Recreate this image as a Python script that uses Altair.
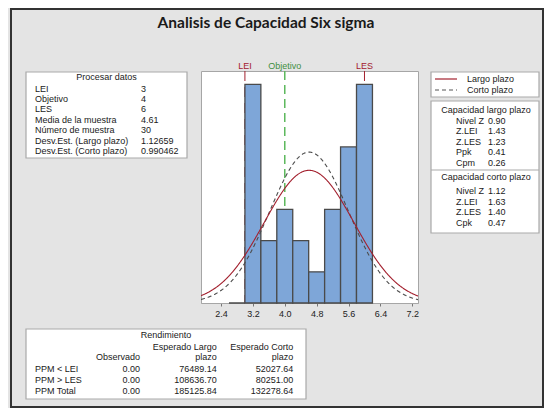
import altair as alt
import pandas as pd

# ---------------- data ----------------
bin_start = [2.6, 3.0, 3.4, 3.8, 4.2, 4.6, 5.0, 5.4, 5.8]
bin_end = [3.0, 3.4, 3.8, 4.2, 4.6, 5.0, 5.4, 5.8, 6.2]
counts = [0, 7, 2, 3, 2, 1, 3, 5, 7]

LEI = 3.0
OBJETIVO = 4.0
LES = 6.0
MEDIA = 4.61
N_MUESTRA = 30
DESV_LARGO = 1.12659
DESV_CORTO = 0.990462
ANCHO_CLASE = 0.4

tick_values = [2.4, 3.2, 4.0, 4.8, 5.6, 6.4, 7.2]
x_domain = [1.898, 7.343]
y_domain = [0, 7.43]

ref_names = ["LEI", "Objetivo", "LES"]
ref_values = [LEI, OBJETIVO, LES]

proc_title = "Procesar datos"
proc_labels = ["LEI", "Objetivo", "LES", "Media de la muestra", "Número de muestra",
               "Desv.Est. (Largo plazo)", "Desv.Est. (Corto plazo)"]
proc_values = ["3", "4", "6", "4.61", "30", "1.12659", "0.990462"]

legend_labels = ["Largo plazo", "Corto plazo"]

cap_largo_title = "Capacidad largo plazo"
cap_largo_labels = ["Nivel Z", "Z.LEI", "Z.LES", "Ppk", "Cpm"]
cap_largo_values = ["0.90", "1.43", "1.23", "0.41", "0.26"]
cap_corto_title = "Capacidad corto plazo"
cap_corto_labels = ["Nivel Z", "Z.LEI", "Z.LES", "Cpk"]
cap_corto_values = ["1.12", "1.63", "1.40", "0.47"]

rend_title = "Rendimiento"
rend_headers_largo = ["Esperado Largo", "plazo"]
rend_headers_corto = ["Esperado Corto", "plazo"]
rend_header_obs = "Observado"
rend_rows = ["PPM < LEI", "PPM > LES", "PPM Total"]
rend_obs = ["0.00", "0.00", "0.00"]
rend_largo = ["76489.14", "108636.70", "185125.84"]
rend_corto = ["52027.64", "80251.00", "132278.64"]

titulo = "Analisis de Capacidad Six sigma"

# ---------------- style ----------------
FONT = "Liberation Sans"
TITLE_FONT = "Lato"
TXT = "#1a1a1a"
BG = "#e4e4e4"
BOX_STROKE = "#a9a9a9"
RED = "#a3202e"
GREEN = "#5cb85c"
BAR = "#7ea6d8"
FS = 9

one = pd.DataFrame({"k": [0]})
xs = alt.Scale(domain=x_domain, nice=False, zero=False)
ys = alt.Scale(domain=y_domain, nice=False)
x_axis = alt.Axis(values=tick_values, format=".1f", title=None, grid=False,
                  labelFontSize=9, labelFont=FONT, labelColor="#222222",
                  tickSize=3, tickColor="#777777", domainColor="#a6a6a6",
                  labelPadding=3)


def txt(lines, x, y, align="left", size=FS, weight="normal", color=TXT, lh=10.4):
    return alt.Chart(one).mark_text(
        align=align, baseline="top", fontSize=size, fontWeight=weight,
        color=color, font=FONT, lineHeight=lh
    ).encode(x=alt.value(x), y=alt.value(y), text=alt.value(lines))


def box(x1, y1, x2, y2, fill="white", stroke=BOX_STROKE, sw=1.2, fo=1):
    return alt.Chart(one).mark_rect(fill=fill, stroke=stroke, strokeWidth=sw, fillOpacity=fo).encode(
        x=alt.value(x1), x2=alt.value(x2), y=alt.value(y1), y2=alt.value(y2))


def seg(x1, y1, x2, y2, color, sw=1.0, dash=None):
    kw = dict(color=color, strokeWidth=sw)
    if dash:
        kw["strokeDash"] = dash
    return alt.Chart(one).mark_rule(**kw).encode(
        x=alt.value(x1), x2=alt.value(x2), y=alt.value(y1), y2=alt.value(y2))


layers = []

# outer frame
layers.append(box(-190, -62, 342, 336, fill=BG, stroke="#333333", sw=2, fo=0))

# title
layers.append(alt.Chart(one).mark_text(align="center", baseline="middle", fontSize=15.5,
                                       fontWeight="bold", color=TXT, font=TITLE_FONT)
              .encode(x=alt.value(65), y=alt.value(-48), text=alt.value(titulo)))

# Procesar datos box
layers.append(box(-175, 1, -14, 87))
layers.append(txt(proc_title, -94.5, 1.7, align="center"))
layers.append(txt(proc_labels, -166, 13.7))
layers.append(txt(proc_values, -60, 13.7))

# legend box
layers.append(box(230, 1, 338, 26))
layers.append(seg(234, 8, 256, 8, RED, 1.2))
layers.append(seg(234, 19, 256, 19, "#555555", 1.2, [4, 3]))
layers.append(txt(legend_labels, 266, 3.7, lh=11))

# capability box
layers.append(box(230, 30, 338, 162))
layers.append(seg(230, 99, 338, 99, BOX_STROKE, 1.2))
layers.append(txt(cap_largo_title, 285, 35.4, align="center"))
layers.append(txt(cap_largo_labels, 255, 45.7, lh=10.5))
layers.append(txt(cap_largo_values, 287, 45.7, lh=10.5))
layers.append(txt(cap_corto_title, 285, 102.0, align="center"))
layers.append(txt(cap_corto_labels, 255, 116.4, lh=10.5))
layers.append(txt(cap_corto_values, 287, 116.4, lh=10.5))

# Rendimiento box
layers.append(box(-175, 258, 105, 328))
layers.append(txt(rend_title, -35, 259.7, align="center"))
layers.append(txt(rend_headers_largo, 15.7, 271.5, align="right", lh=10.5))
layers.append(txt(rend_headers_corto, 92.3, 271.5, align="right", lh=10.5))
layers.append(txt(rend_header_obs, -61, 282.0, align="right"))
layers.append(txt(rend_rows, -166, 294.0, lh=10.8))
layers.append(txt(rend_obs, -61, 294.0, align="right", lh=10.8))
layers.append(txt(rend_largo, 15.7, 294.0, align="right", lh=10.8))
layers.append(txt(rend_corto, 92.3, 294.0, align="right", lh=10.8))

# ---------------- plot ----------------
hist_df = pd.DataFrame({"inicio": bin_start, "fin": bin_end, "frecuencia": counts})
ref_df = pd.DataFrame({"nombre": ref_names, "valor": ref_values,
                       "color": [RED, "#3f8f3f", RED]})

lim_lines = alt.Chart(ref_df[ref_df["nombre"] != "Objetivo"]).mark_rule(
    color=RED, strokeWidth=1, strokeDash=[10, 6]
).encode(x=alt.X("valor:Q", scale=xs, axis=x_axis))

obj_line = alt.Chart(ref_df[ref_df["nombre"] == "Objetivo"]).mark_rule(
    color=GREEN, strokeWidth=1.5, strokeDash=[9, 5]
).encode(x=alt.X("valor:Q", scale=xs, axis=x_axis))

bars = alt.Chart(hist_df).mark_rect(fill=BAR, stroke="#4a4a4a", strokeWidth=1.3).encode(
    x=alt.X("inicio:Q", scale=xs, axis=x_axis),
    x2="fin:Q",
    y=alt.Y("frecuencia:Q", scale=ys, axis=None),
    y2=alt.datum(0),
)


def curve(sd, color, dash=None):
    expr = (f"{N_MUESTRA} * {ANCHO_CLASE} * exp(-0.5 * pow((datum.x - {MEDIA}) / {sd}, 2))"
            f" / ({sd} * sqrt(2 * PI))")
    kw = dict(color=color, strokeWidth=1.1, clip=True)
    if dash:
        kw["strokeDash"] = dash
    return alt.Chart(alt.sequence(x_domain[0], x_domain[1] + 0.01, 0.01, as_="x")).transform_calculate(
        y=expr).mark_line(**kw).encode(
        x=alt.X("x:Q", scale=xs, axis=x_axis),
        y=alt.Y("y:Q", scale=ys, axis=None))


curve_corto = curve(DESV_CORTO, "#4d4d4d", [4, 3])
curve_largo = curve(DESV_LARGO, RED)

ref_labels = alt.Chart(ref_df).mark_text(baseline="middle", fontSize=FS, font=FONT).encode(
    x=alt.X("valor:Q", scale=xs, axis=x_axis),
    y=alt.value(-5),
    text="nombre:N",
    color=alt.Color("color:N", scale=None),
)

layers += [lim_lines, obj_line, bars, curve_corto, curve_largo, ref_labels]

chart = alt.layer(*layers).properties(
    width=217, height=232,
    padding={"left": 193, "top": 63, "right": 126, "bottom": 105},
    autosize=alt.AutoSizeParams(type="none"),
    background=BG,
).configure_view(fill="white", stroke="#a6a6a6", strokeWidth=1)

chart.save("out.html", embed_options={"renderer": "svg", "actions": False})
